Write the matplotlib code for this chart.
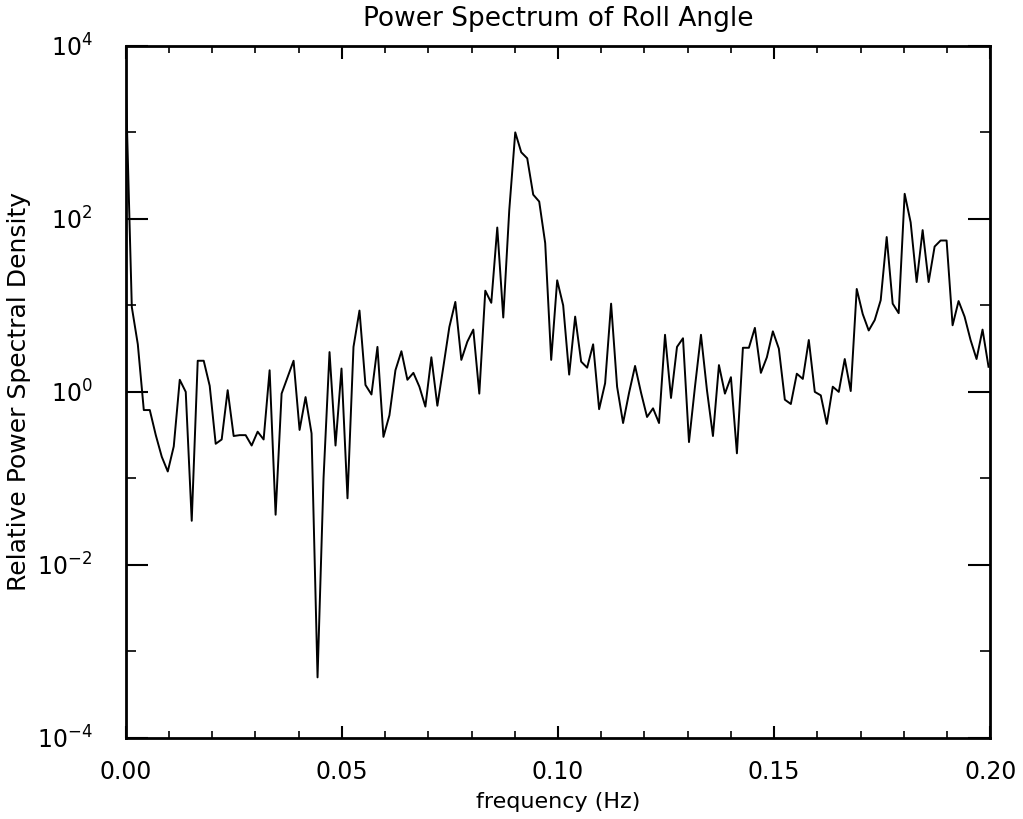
import numpy as np
import matplotlib
matplotlib.use('Agg')
import matplotlib.pyplot as plt
from matplotlib.ticker import FixedLocator, MultipleLocator, NullFormatter

# log10 of the relative PSD
log_psd = [3.55, 0.98, 0.55, -0.21, -0.21, -0.50, -0.75, -0.92, -0.63, 0.14,
           0.00, -1.49, 0.36, 0.36, 0.07, -0.60, -0.55, 0.02, -0.51, -0.50,
           -0.50, -0.62, -0.46, -0.55, 0.25, -1.42, -0.02, 0.17, 0.36, -0.44,
           -0.06, -0.48, -3.30, -1.00, 0.46, -0.62, 0.27, -1.23, 0.52, 0.94,
           0.08, -0.03, 0.52, -0.52, -0.27, 0.25, 0.47, 0.14, 0.22, 0.06,
           -0.17, 0.40, -0.16, 0.29, 0.75, 1.04, 0.37, 0.58, 0.72, -0.02,
           1.17, 1.03, 1.90, 0.86, 2.10, 3.00, 2.77, 2.70, 2.28, 2.20,
           1.72, 0.37, 1.29, 1.00, 0.20, 0.87, 0.35, 0.28, 0.55, -0.20,
           0.10, 1.02, 0.06, -0.36, -0.01, 0.30, -0.01, -0.29, -0.19, -0.36,
           0.66, -0.07, 0.52, 0.62, -0.58, 0.06, 0.66, 0.02, -0.51, 0.31,
           -0.02, 0.17, -0.71, 0.51, 0.51, 0.74, 0.22, 0.40, 0.70, 0.50,
           -0.09, -0.14, 0.21, 0.15, 0.60, 0.00, -0.04, -0.37, 0.06, 0.00,
           0.38, 0.01, 1.19, 0.90, 0.71, 0.83, 1.06, 1.79, 1.02, 0.91,
           2.29, 1.96, 1.27, 1.87, 1.27, 1.68, 1.75, 1.75, 0.77, 1.05,
           0.87, 0.60, 0.38, 0.72, 0.29]
f_last = 0.1996
freq = np.linspace(0, f_last, len(log_psd))
psd = 10.0 ** np.array(log_psd)

x_ticks = [0.00, 0.05, 0.10, 0.15, 0.20]
x_labels = ['0.00', '0.05', '0.10', '0.15', '0.20']
y_ticks = [1e-4, 1e-2, 1e0, 1e2, 1e4]
y_labels = ['$10^{-4}$', '$10^{-2}$', '$10^{0}$', '$10^{2}$', '$10^{4}$']

plt.rcParams['font.family'] = ['DejaVu Sans']
plt.rcParams['mathtext.fontset'] = 'dejavusans'

fig = plt.figure(figsize=(10.23, 8.19), dpi=100)
ax = fig.add_axes([0.123, 0.099, 0.845, 0.845])

ax.plot(freq, psd, color='black', linewidth=1.4)

ax.set_yscale('log')
ax.set_xlim(0, 0.2)
ax.set_ylim(1e-4, 1e4)

ax.set_xticks(x_ticks)
ax.set_xticklabels(x_labels)
ax.xaxis.set_minor_locator(MultipleLocator(0.01))
ax.yaxis.set_major_locator(FixedLocator(y_ticks))
ax.set_yticklabels(y_labels)
ax.yaxis.set_minor_locator(FixedLocator([1e-3, 1e-1, 1e1, 1e3]))
ax.yaxis.set_minor_formatter(NullFormatter())

ax.tick_params(axis='both', which='major', direction='in', length=16, width=1.5,
               labelsize=17, top=True, right=True)
ax.tick_params(axis='x', which='major', length=9, pad=16)
ax.tick_params(axis='y', which='major', pad=24)
ax.tick_params(axis='both', which='minor', direction='in', length=7, width=1.2,
               top=True, right=True)
ax.tick_params(axis='x', which='minor', length=5)
for side in ax.spines.values():
    side.set_linewidth(2)

ax.set_title('Power Spectrum of Roll Angle', fontsize=19, pad=14)
ax.set_xlabel('frequency (Hz)', fontsize=16, labelpad=6)
ax.set_ylabel('Relative Power Spectral Density', fontsize=18, labelpad=4)

fig.savefig('out.png', dpi=100)
